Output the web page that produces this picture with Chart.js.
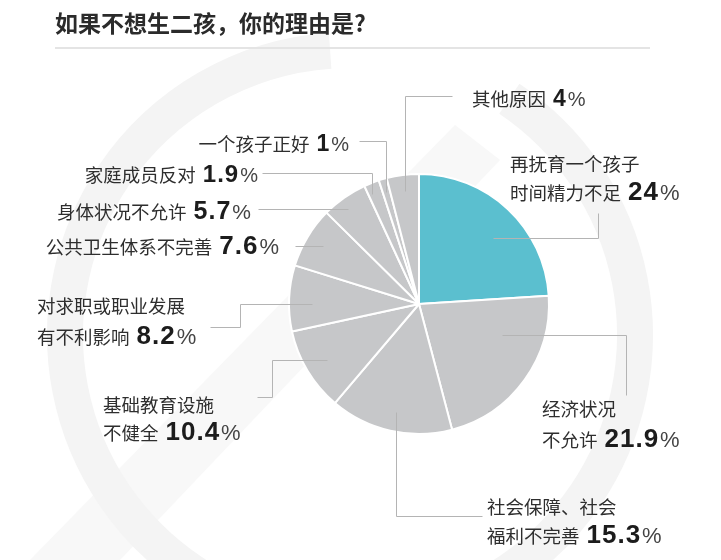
<!DOCTYPE html>
<html><head><meta charset="utf-8">
<script src="https://cdn.jsdelivr.net/npm/chart.js@4/dist/chart.umd.min.js"></script>
<style>html,body{margin:0;padding:0;background:#fff;}canvas{display:block}</style>
</head><body>
<canvas id="c" width="721" height="560"></canvas>
<script>
// ---- data ----
const chartTitle = '如果不想生二孩，你的理由是?';
const categories = ['再抚育一个孩子时间精力不足','经济状况不允许','社会保障、社会福利不完善','基础教育设施不健全','对求职或职业发展有不利影响','公共卫生体系不完善','身体状况不允许','家庭成员反对','一个孩子正好','其他原因'];
const values = [24, 21.9, 15.3, 10.4, 8.2, 7.6, 5.7, 1.9, 1, 4];
const labelLines = [
  ['再抚育一个孩子','时间精力不足'],
  ['经济状况','不允许'],
  ['社会保障、社会','福利不完善'],
  ['基础教育设施','不健全'],
  ['对求职或职业发展','有不利影响'],
  ['公共卫生体系不完善'],
  ['身体状况不允许'],
  ['家庭成员反对'],
  ['一个孩子正好'],
  ['其他原因']
];
const sliceColors = ['#5bbfcf','#c6c7c9','#c6c7c9','#c6c7c9','#c6c7c9','#c6c7c9','#c6c7c9','#c6c7c9','#c6c7c9','#c6c7c9'];

// ---- label layout (annotation placement) ----
const labelLayout = [
  {align:'left',  x:510, base:[171,200], num:26, anchor:[0.56,0.76], path:[['h',598],['v',213]]},
  {align:'left',  x:542, base:[416,447], num:26, anchor:[0.31,0.68], path:[['h',626],['v',395]]},
  {align:'left',  x:487, base:[514,543], num:26, anchor:[0.49,0.85], path:[['v',516],['h',482]]},
  {align:'left',  x:103, base:[412,440], num:26, anchor:[0.49,0.83], path:[['h',272],['v',397],['h',257]]},
  {align:'left',  x:37,  base:[313,344], num:26, anchor:[0.41,0.82], path:[['h',240],['v',327],['h',210]]},
  {align:'right', x:278, base:[254],     num:26, anchor:[0.50,0.86], path:[['h',295]]},
  {align:'right', x:250, base:[219],     num:25, anchor:[0.42,0.91], path:[['h',258]]},
  {align:'right', x:257, base:[182],     num:24, anchor:[0.25,0.92], path:[['v',173],['h',262]]},
  {align:'right', x:348, base:[151],     num:23, anchor:[0.50,0.90], path:[['v',141],['h',359]]},
  {align:'left',  x:472, base:[106],     num:23, anchor:[0.50,0.88], path:[['v',96],['h',452]]}
];

const CJK = '"Noto Sans CJK SC", "Noto Sans", sans-serif';
const NUM = '"Liberation Sans", Arial, sans-serif';

const backdrop = {
  id:'backdrop',
  beforeDraw(chart){
    const ctx = chart.ctx;
    ctx.save();
    ctx.fillStyle = '#fff';
    ctx.fillRect(0,0,chart.width,chart.height);
    // faint watermark
    ctx.fillStyle = '#f8f8f8';
    ctx.beginPath();
    ctx.moveTo(30,560); ctx.lineTo(120,560); ctx.lineTo(500,160); ctx.lineTo(455,125);
    ctx.closePath(); ctx.fill();
    ctx.strokeStyle = '#f4f4f4';
    ctx.lineWidth = 36;
    ctx.beginPath();
    ctx.arc(350,335,285,-56*Math.PI/180,266*Math.PI/180);
    ctx.stroke();
    ctx.restore();
  }
};

const annotations = {
  id:'annotations',
  afterDraw(chart){
    const ctx = chart.ctx;
    ctx.save();
    // title
    ctx.fillStyle = '#2b2b2b';
    ctx.font = 'bold 23px ' + CJK;
    ctx.textBaseline = 'middle';
    ctx.textAlign = 'left';
    ctx.fillText(chartTitle, 55, 23);
    ctx.strokeStyle = '#e4e4e4';
    ctx.lineWidth = 2;
    ctx.beginPath(); ctx.moveTo(55,48); ctx.lineTo(650,48); ctx.stroke();

    const arcs = chart.getDatasetMeta(0).data;
    ctx.textBaseline = 'alphabetic';
    arcs.forEach((arc, i) => {
      const L = labelLayout[i];
      const p = arc.getProps(['x','y','startAngle','endAngle','outerRadius'], true);
      const a = p.startAngle + (p.endAngle - p.startAngle) * L.anchor[0];
      const r = p.outerRadius * L.anchor[1];
      let cx = p.x + r*Math.cos(a), cy = p.y + r*Math.sin(a);
      // leader line
      ctx.strokeStyle = '#b4b4b4';
      ctx.lineWidth = 1;
      ctx.beginPath();
      ctx.moveTo(Math.round(cx)+0.5, Math.round(cy)+0.5);
      L.path.forEach(seg => {
        if (seg[0]==='h') cx = seg[1]; else cy = seg[1];
        ctx.lineTo(Math.round(cx)+0.5, Math.round(cy)+0.5);
      });
      ctx.stroke();
      // text
      const lines = labelLines[i];
      const cjkFont = '18.5px ' + CJK;
      const numFont = 'bold ' + L.num + 'px ' + NUM;
      const pctFont = Math.round(L.num*0.85) + 'px ' + NUM;
      const numStr = String(values[i]);
      lines.forEach((txt, li) => {
        const last = li === lines.length-1;
        ctx.font = cjkFont;
        const wT = ctx.measureText(txt).width;
        let wN = 0, wP = 0, gap = 0;
        if (last) {
          gap = 7;
          ctx.font = numFont; ctx.letterSpacing = '1px';
          wN = ctx.measureText(numStr).width;
          ctx.letterSpacing = '0px';
          ctx.font = pctFont;
          wP = ctx.measureText('%').width;
        }
        const total = wT + gap + wN + wP;
        let x = L.align === 'left' ? L.x : L.x - total;
        const y = L.base[li];
        ctx.textAlign = 'left';
        ctx.font = cjkFont; ctx.fillStyle = '#2e2e2e';
        ctx.fillText(txt, x, y);
        if (last) {
          x += wT + gap;
          ctx.font = numFont; ctx.fillStyle = '#1c1c1c'; ctx.letterSpacing = '1px';
          ctx.fillText(numStr, x, y);
          ctx.letterSpacing = '0px';
          x += wN + 1;
          ctx.font = pctFont; ctx.fillStyle = '#444';
          ctx.fillText('%', x, y);
        }
      });
    });
    ctx.restore();
  }
};

new Chart(document.getElementById('c'), {
  type:'pie',
  data:{
    labels: categories,
    datasets:[{
      data: values,
      backgroundColor: sliceColors,
      borderColor:'#ffffff',
      borderWidth:2
    }]
  },
  options:{
    responsive:false,
    animation:false,
    events:[],
    layout:{padding:{left:288, right:171, top:173, bottom:125}},
    plugins:{legend:{display:false}, tooltip:{enabled:false}}
  },
  plugins:[backdrop, annotations]
});
</script>
</body></html>
